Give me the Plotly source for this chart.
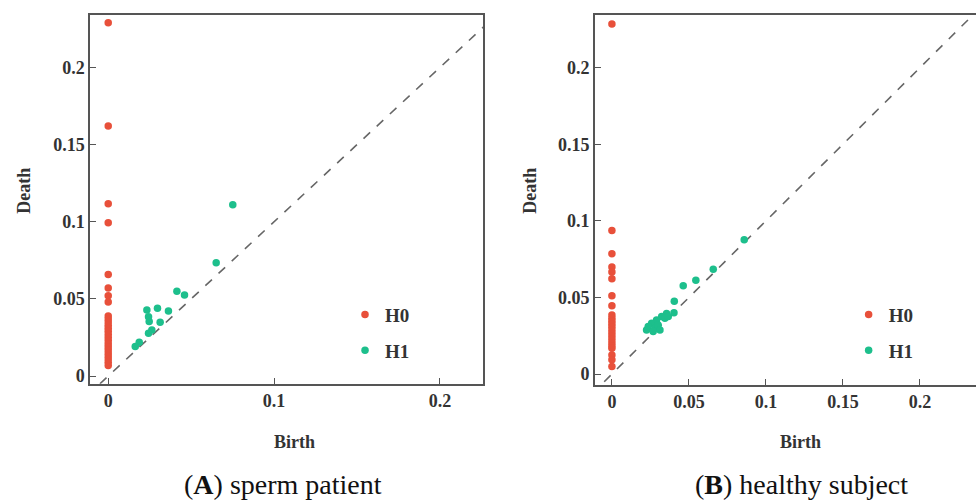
import plotly.graph_objects as go

# ---- data: panel A (sperm patient) ----
a_h0_death = [0.229, 0.162, 0.1116, 0.0994, 0.0658, 0.057, 0.052, 0.048,
              0.039, 0.037, 0.035, 0.033, 0.031, 0.029, 0.027, 0.025, 0.023,
              0.021, 0.019, 0.017, 0.015, 0.013, 0.011, 0.009, 0.0068]
a_h1_birth = [0.0751, 0.0651, 0.0414, 0.046, 0.0297, 0.0363, 0.0233, 0.0243,
              0.0247, 0.0313, 0.0263, 0.0243, 0.0187, 0.0163]
a_h1_death = [0.111, 0.0734, 0.055, 0.0525, 0.0439, 0.0421, 0.0428, 0.0385,
              0.0353, 0.0348, 0.0299, 0.0277, 0.0219, 0.0192]

# ---- data: panel B (healthy subject) ----
b_h0_death = [0.2286, 0.0937, 0.0786, 0.0699, 0.0667, 0.0623, 0.0511, 0.0446,
              0.0385, 0.0365, 0.0345, 0.0325, 0.0305, 0.0285, 0.0265, 0.0245,
              0.0225, 0.0205, 0.0185, 0.0169, 0.0125, 0.0093, 0.005]
b_h1_birth = [0.0859, 0.0658, 0.0545, 0.0463, 0.0405, 0.0403, 0.0355, 0.0323,
              0.029, 0.0258, 0.0236, 0.0279, 0.030, 0.0344, 0.0225, 0.0312,
              0.0268, 0.0366]
b_h1_death = [0.0877, 0.0684, 0.0612, 0.0576, 0.0476, 0.0401, 0.0396, 0.0375,
              0.0353, 0.0331, 0.031, 0.0299, 0.032, 0.0364, 0.0288, 0.0288,
              0.0277, 0.0375]

diag = [-0.005, 0.3]
y_ticks = [0, 0.05, 0.1, 0.15, 0.2]
y_ticklabels = ["0", "0.05", "0.1", "0.15", "0.2"]
a_x_ticks = [0, 0.1, 0.2]
a_x_ticklabels = ["0", "0.1", "0.2"]
b_x_ticks = [0, 0.05, 0.1, 0.15, 0.2]
b_x_ticklabels = ["0", "0.05", "0.1", "0.15", "0.2"]

RED = "#e8503a"
GREEN = "#1dbf8c"
SERIF = "Liberation Serif"

fig = go.Figure()

def add_panel(xa, ya, h0, h1b, h1d, legend):
    fig.add_trace(go.Scatter(x=diag, y=diag, mode="lines", xaxis=xa, yaxis=ya,
                             line=dict(color="#666666", width=1.6, dash="dash"),
                             showlegend=False, hoverinfo="skip"))
    fig.add_trace(go.Scatter(x=[0] * len(h0), y=h0, mode="markers", name="H0",
                             xaxis=xa, yaxis=ya, legend=legend, legendgroup=legend + "h0",
                             marker=dict(color=RED, size=7.5)))
    fig.add_trace(go.Scatter(x=h1b, y=h1d, mode="markers", name="H1",
                             xaxis=xa, yaxis=ya, legend=legend, legendgroup=legend + "h1",
                             marker=dict(color=GREEN, size=7.5)))

add_panel("x", "y", a_h0_death, a_h1_birth, a_h1_death, "legend")
add_panel("x2", "y2", b_h0_death, b_h1_birth, b_h1_death, "legend2")

axis_common = dict(showgrid=False, zeroline=False, showline=True,
                   linecolor="#555555", linewidth=1.5, ticks="inside",
                   ticklen=6, tickcolor="#555555", tickwidth=1.3,
                   tickfont=dict(family=SERIF, size=18, color="#333333", weight="bold"))

fig.update_layout(
    width=976, height=504,
    margin=dict(l=0, r=0, t=0, b=0),
    paper_bgcolor="white", plot_bgcolor="white",
    xaxis=dict(domain=[0.0922, 0.4949], range=[-0.011, 0.226], anchor="y",
               tickvals=a_x_ticks, ticktext=a_x_ticklabels, mirror=True, **axis_common),
    yaxis=dict(domain=[0.234, 0.970], range=[-0.005, 0.234], anchor="x",
               tickvals=y_ticks, ticktext=y_ticklabels, mirror=True, **axis_common),
    xaxis2=dict(domain=[0.6096, 1.0], range=[-0.011, 0.2364], anchor="y2",
                tickvals=b_x_ticks, ticktext=b_x_ticklabels, mirror=True, **axis_common),
    yaxis2=dict(domain=[0.232, 0.970], range=[-0.007, 0.2344], anchor="x2",
                tickvals=y_ticks, ticktext=y_ticklabels, mirror=False, **axis_common),
    legend=dict(x=0.3535, y=0.41, xanchor="left", yanchor="top",
                bgcolor="rgba(0,0,0,0)", tracegroupgap=8,
                font=dict(family=SERIF, size=19, color="#333333", weight="bold")),
    legend2=dict(x=0.8695, y=0.41, xanchor="left", yanchor="top",
                 bgcolor="rgba(0,0,0,0)", tracegroupgap=8,
                 font=dict(family=SERIF, size=19, color="#333333", weight="bold")),
    showlegend=True,
)

ann_font = dict(family=SERIF, size=18, color="#333333", weight="bold")
cap_font = dict(family="Times New Roman, Liberation Serif, serif", size=28, color="#111111")

def label(text, px, py, font, angle=0):
    fig.add_annotation(text=text, x=px / 976, y=1 - py / 504, xref="paper", yref="paper",
                       xanchor="center", yanchor="middle", textangle=angle,
                       showarrow=False, font=font)

label("Death", 24, 192, ann_font, -90)
label("Death", 530, 192, ann_font, -90)
label("Birth", 294, 445, ann_font)
label("Birth", 800, 445, ann_font)
label("(<b>A</b>) sperm patient", 283, 487, cap_font)
label("(<b>B</b>) healthy subject", 801, 487, cap_font)

fig.write_html("out.html")
